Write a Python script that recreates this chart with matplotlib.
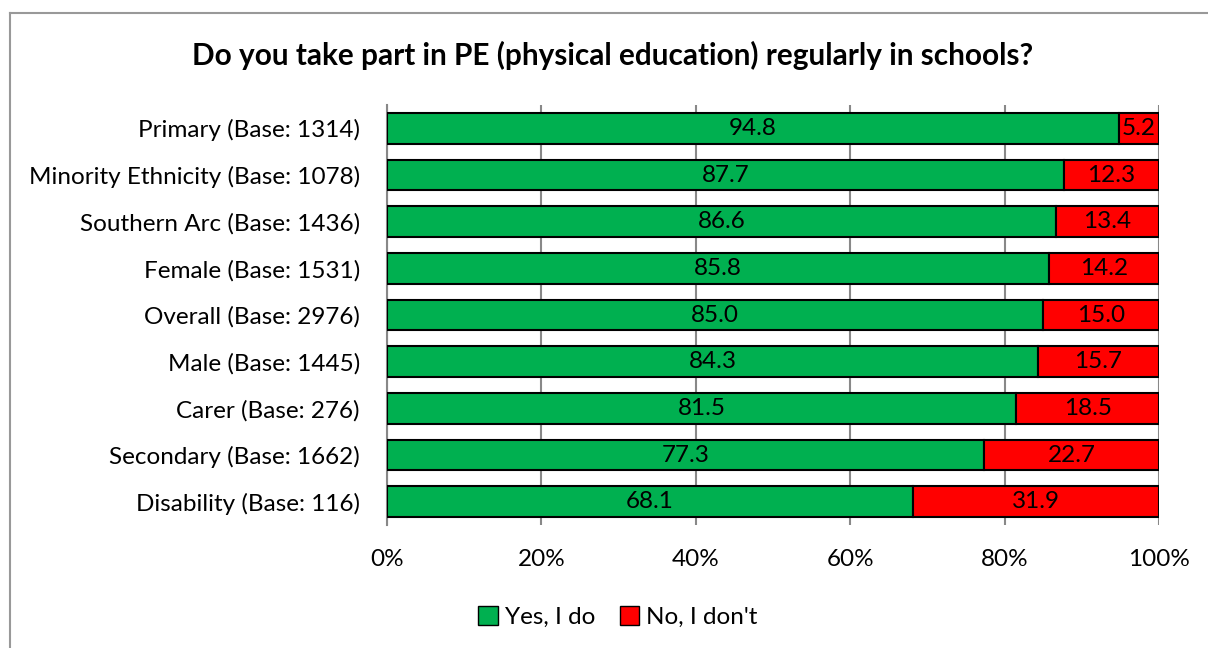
import matplotlib
matplotlib.use("Agg")
import matplotlib.pyplot as plt
from matplotlib.patches import Patch

plt.rcParams['font.family'] = ['Lato', 'DejaVu Sans']

categories = [
    "Primary (Base: 1314)",
    "Minority Ethnicity (Base: 1078)",
    "Southern Arc (Base: 1436)",
    "Female (Base: 1531)",
    "Overall (Base: 2976)",
    "Male (Base: 1445)",
    "Carer (Base: 276)",
    "Secondary (Base: 1662)",
    "Disability (Base: 116)",
]
yes_vals = [94.8, 87.7, 86.6, 85.8, 85.0, 84.3, 81.5, 77.3, 68.1]
no_vals = [5.2, 12.3, 13.4, 14.2, 15.0, 15.7, 18.5, 22.7, 31.9]
tick_labels = ["0%", "20%", "40%", "60%", "80%", "100%"]
title = "Do you take part in PE (physical education) regularly in schools?"
series_names = ["Yes, I do", "No, I don't"]

GREEN = "#00B050"
RED = "#FF0000"
FS = 17.5

fig = plt.figure(figsize=(12.08, 6.48), dpi=100)
ax = fig.add_axes([387/1208, 1 - 525/648, (1159-387)/1208, 420/648])

n = len(categories)
ypos = list(range(n))
ax.barh(ypos, yes_vals, height=0.66, color=GREEN, edgecolor="black", linewidth=1.5, zorder=3)
ax.barh(ypos, no_vals, left=yes_vals, height=0.66, color=RED, edgecolor="black", linewidth=1.5, zorder=3)

for i in range(n):
    ax.text(yes_vals[i] / 2, i, f"{yes_vals[i]:.1f}", ha="center", va="center", fontsize=FS, zorder=4)
    ax.text(yes_vals[i] + no_vals[i] / 2, i, f"{no_vals[i]:.1f}", ha="center", va="center", fontsize=FS, zorder=4)

ax.set_xlim(0, 100)
ax.set_ylim(n - 0.5, -0.5)
ax.set_yticks(ypos)
ax.set_yticklabels(categories, fontsize=FS)
ax.set_xticks([0, 20, 40, 60, 80, 100])
ax.set_xticklabels(tick_labels, fontsize=FS)
ax.tick_params(axis="both", length=0)
ax.tick_params(axis="x", pad=17)
ax.tick_params(axis="y", pad=19.5)
ax.xaxis.grid(True, color="#888888", linewidth=1.5, zorder=0)
for s in ["top", "right", "bottom"]:
    ax.spines[s].set_visible(False)
ax.spines["left"].set_color("#888888")
ax.spines["left"].set_linewidth(1.5)

fig.text(613/1208, 1 - 55/648, title, ha="center", va="center", fontsize=21.4, fontweight="bold")

handles = [Patch(facecolor=GREEN, edgecolor="black", label=series_names[0]),
           Patch(facecolor=RED, edgecolor="black", label=series_names[1])]
fig.legend(handles=handles, loc="center", bbox_to_anchor=(618/1208, 1 - 617/648), ncol=2,
           frameon=False, fontsize=FS, handlelength=0.8, handleheight=0.8, handletextpad=0.3, columnspacing=1.0)

# outer chart frame
fig.add_artist(plt.Line2D([10/1208, 10/1208], [0, 1 - 13/648], transform=fig.transFigure, color="#999999", linewidth=1.5))
fig.add_artist(plt.Line2D([10/1208, 1], [1 - 13/648, 1 - 13/648], transform=fig.transFigure, color="#999999", linewidth=1.5))

fig.savefig("out.png", dpi=100)
